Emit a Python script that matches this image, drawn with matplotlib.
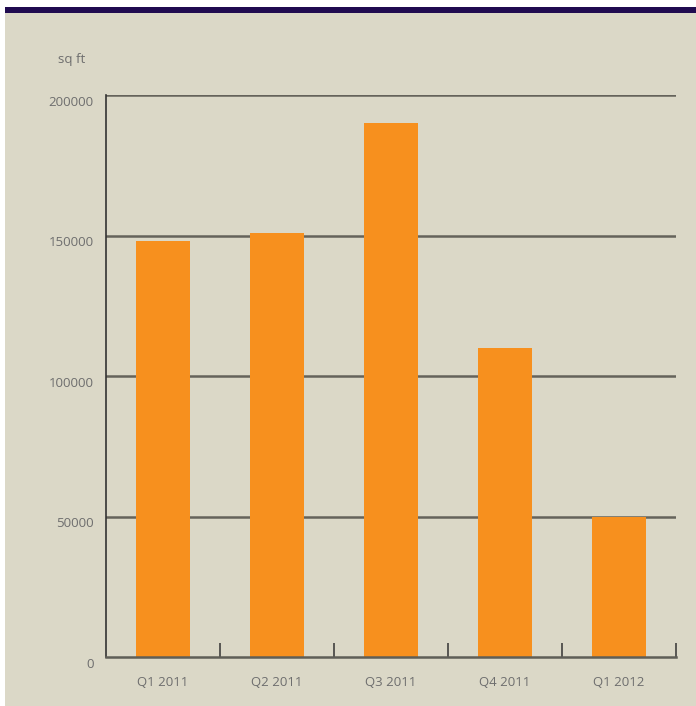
import matplotlib
matplotlib.use("Agg")
import matplotlib.pyplot as plt
import matplotlib.transforms as mtransforms
from matplotlib.patches import Rectangle
from matplotlib.ticker import FixedLocator

categories = ["Q1 2011", "Q2 2011", "Q3 2011", "Q4 2011", "Q1 2012"]
values = [148000, 151000, 190000, 110000, 50000]
yticks = [0, 50000, 100000, 150000, 200000]
ylabel = "sq ft"

W, H = 696, 706
fig = plt.figure(figsize=(W / 100, H / 100), dpi=100)
fig.patch.set_facecolor("white")
plt.rcParams['font.family'] = ['Open Sans', 'DejaVu Sans']

beige = "#dbd8c7"
fig.add_artist(Rectangle((5 / W, 0 / H), 1 - 5 / W, 1 - 13 / H, transform=fig.transFigure,
                         facecolor=beige, edgecolor="none", zorder=-10))
fig.add_artist(Rectangle((5 / W, 1 - 13 / H), 1 - 5 / W, 6 / H, transform=fig.transFigure,
                         facecolor="#200b50", edgecolor="none", zorder=-9))

ax = fig.add_axes([106 / W, 1 - 657 / H, 570 / W, (657 - 95) / H])
ax.set_facecolor("none")

x = [i + 0.5 for i in range(len(categories))]
ax.bar(x, values, width=0.47, color="#f7901e", zorder=2)

ax.set_xlim(0, len(categories))
ax.set_ylim(0, 200000)
ax.set_yticks(yticks)
ax.set_yticklabels([str(v) for v in yticks])
ax.set_xticks(x)
ax.set_xticklabels(categories)
ax.xaxis.set_minor_locator(FixedLocator(list(range(1, len(categories) + 1))))

for v in yticks[1:]:
    ax.axhline(v, color="#65635b", lw=1.8, zorder=1)

for s in ["top", "right"]:
    ax.spines[s].set_visible(False)
ax.spines["left"].set_color("#333333")
ax.spines["left"].set_linewidth(1.2)
ax.spines["bottom"].set_color("#5f5e57")
ax.spines["bottom"].set_linewidth(1.8)

ax.tick_params(axis="y", length=0, pad=9, labelsize=9.5, labelcolor="#6e6e6e")
ax.tick_params(axis="x", which="major", length=0, pad=14, labelsize=9.5, labelcolor="#6e6e6e")
ax.tick_params(axis="x", which="minor", direction="in", length=10, width=1.1, color="#333333")

offset = mtransforms.ScaledTranslation(0, -4 / 72, fig.dpi_scale_trans)
for lbl in ax.get_yticklabels():
    lbl.set_transform(lbl.get_transform() + offset)

fig.text(72 / W, 1 - 60 / H, ylabel, ha="center", va="center", fontsize=9.5, color="#6e6e6e")

fig.savefig("out.png", dpi=100, facecolor=fig.get_facecolor())
